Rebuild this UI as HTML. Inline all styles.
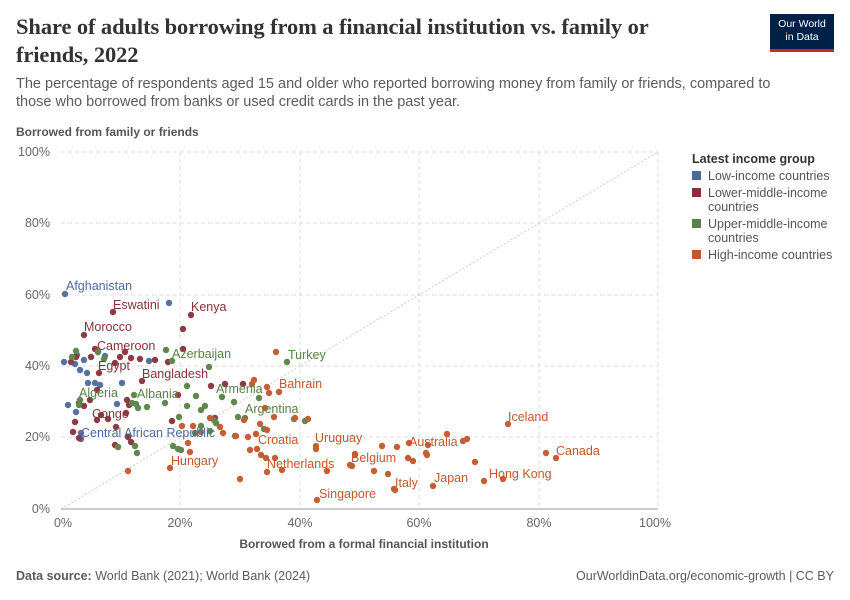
<!DOCTYPE html>
<html><head><meta charset="utf-8"><style>
body{margin:0;background:#fff;font-family:"Liberation Sans",sans-serif;}
.t{position:absolute;left:16px;top:13px;font-family:"Liberation Serif",serif;font-size:22.5px;font-weight:bold;color:#333;line-height:28px;width:660px;letter-spacing:-0.1px}
.s{position:absolute;left:16px;top:75px;font-size:14.5px;color:#5b5b5b;line-height:18px;width:790px}
.logo{position:absolute;left:770px;top:14px;width:64px;height:38px;background:#002147;color:#fff;font-size:10.5px;text-align:center;line-height:13px;padding-top:4px;box-sizing:border-box;border-bottom:3px solid #ce261e}
.f{position:absolute;top:569px;font-size:12.5px;color:#5b5b5b}
</style></head><body>
<div class="t">Share of adults borrowing from a financial institution vs. family or friends, 2022</div>
<div class="s">The percentage of respondents aged 15 and older who reported borrowing money from family or friends, compared to those who borrowed from banks or used credit cards in the past year.</div>
<div class="logo">Our World<br>in Data</div>
<div class="f" style="left:16px"><b>Data source:</b> World Bank (2021); World Bank (2024)</div>
<div class="f" style="right:16px">OurWorldinData.org/economic-growth | CC BY</div>
<svg width="850" height="600" style="position:absolute;left:0;top:0" font-family="Liberation Sans,sans-serif">
<text x="16" y="136" font-size="12" font-weight="bold" fill="#555">Borrowed from family or friends</text>
<g stroke="#ddd" stroke-dasharray="4,3">
<line x1="61" y1="152" x2="658" y2="152"/><line x1="61" y1="223" x2="658" y2="223"/><line x1="61" y1="295" x2="658" y2="295"/><line x1="61" y1="366" x2="658" y2="366"/><line x1="61" y1="437" x2="658" y2="437"/>
<line x1="180" y1="152" x2="180" y2="509"/><line x1="300" y1="152" x2="300" y2="509"/><line x1="419" y1="152" x2="419" y2="509"/><line x1="539" y1="152" x2="539" y2="509"/><line x1="658" y1="152" x2="658" y2="509"/>
</g>
<line x1="61" y1="509" x2="658" y2="152" stroke="#ccc" stroke-dasharray="2,2"/>
<line x1="61" y1="509" x2="658" y2="509" stroke="#999"/>
<g font-size="12.5" fill="#666" text-anchor="end">
<text x="50" y="156">100%</text><text x="50" y="227">80%</text><text x="50" y="299">60%</text><text x="50" y="370">40%</text><text x="50" y="441">20%</text><text x="50" y="513">0%</text></g>
<g font-size="12.5" fill="#666" text-anchor="middle">
<text x="63" y="527">0%</text><text x="180" y="527">20%</text><text x="300" y="527">40%</text><text x="419" y="527">60%</text><text x="539" y="527">80%</text><text x="655" y="527">100%</text></g>
<text x="364" y="548" font-size="12" font-weight="bold" fill="#555" text-anchor="middle">Borrowed from a formal financial institution</text>
<g id="pts" opacity="0.95"></g>
<g font-size="12.5">
<text x="66" y="290" fill="#4c6a9c">Afghanistan</text>
<text x="113" y="309" fill="#883039">Eswatini</text>
<text x="191" y="311" fill="#883039">Kenya</text>
<text x="84" y="331" fill="#883039">Morocco</text>
<text x="97" y="350" fill="#883039">Cameroon</text>
<text x="98" y="370" fill="#883039">Egypt</text>
<text x="172" y="358" fill="#578145">Azerbaijan</text>
<text x="142" y="378" fill="#883039">Bangladesh</text>
<text x="288" y="359" fill="#578145">Turkey</text>
<text x="79" y="397" fill="#578145">Algeria</text>
<text x="137" y="398" fill="#578145">Albania</text>
<text x="216" y="393" fill="#578145">Armenia</text>
<text x="279" y="388" fill="#c4562b">Bahrain</text>
<text x="245" y="413" fill="#578145">Argentina</text>
<text x="92" y="418" fill="#883039">Congo</text>
<text x="81" y="437" fill="#4c6a9c">Central African Republic</text>
<text x="258" y="444" fill="#c4562b">Croatia</text>
<text x="315" y="442" fill="#c4562b">Uruguay</text>
<text x="508" y="421" fill="#c4562b">Iceland</text>
<text x="409" y="446" fill="#c4562b">Australia</text>
<text x="556" y="455" fill="#c4562b">Canada</text>
<text x="171" y="465" fill="#c4562b">Hungary</text>
<text x="267" y="468" fill="#c4562b">Netherlands</text>
<text x="351" y="462" fill="#c4562b">Belgium</text>
<text x="489" y="478" fill="#c4562b">Hong Kong</text>
<text x="434" y="482" fill="#c4562b">Japan</text>
<text x="395" y="487" fill="#c4562b">Italy</text>
<text x="319" y="498" fill="#c4562b">Singapore</text>
</g>
<g font-size="12.5" fill="#555">
<text x="692" y="163" font-weight="bold" fill="#333">Latest income group</text>
<rect x="692" y="171" width="9" height="9" fill="#4c6a9c"/><text x="708" y="180">Low-income countries</text>
<rect x="692" y="188" width="9" height="9" fill="#883039"/><text x="708" y="197">Lower-middle-income</text><text x="708" y="211">countries</text>
<rect x="692" y="219" width="9" height="9" fill="#578145"/><text x="708" y="228">Upper-middle-income</text><text x="708" y="242">countries</text>
<rect x="692" y="250" width="9" height="9" fill="#c4562b"/><text x="708" y="259">High-income countries</text>
</g>
</svg>
<script>
var d={"#4c6a9c":[[65,294],[169,303],[64,362],[75,364],[80,370],[77,355],[84,360],[105,356],[88,383],[95,383],[100,385],[122,383],[68,405],[117,404],[76,412],[81,439],[87,373],[149,361],[81,433]],
"#883039":[[113,312],[191,315],[183,329],[84,335],[183,349],[95,349],[76,357],[71,362],[91,357],[98,352],[120,357],[125,352],[115,363],[131,358],[140,359],[155,360],[168,362],[99,373],[142,381],[97,390],[90,400],[79,403],[84,406],[127,400],[129,405],[126,413],[101,415],[108,419],[75,422],[73,432],[97,420],[116,427],[79,438],[115,445],[118,447],[131,442],[225,384],[243,384],[211,386],[178,395],[215,418],[172,421],[128,437]],
"#578145":[[76,351],[72,357],[98,352],[104,359],[166,350],[172,361],[209,367],[187,386],[287,362],[134,395],[80,400],[79,405],[136,404],[132,403],[138,408],[165,403],[147,407],[187,406],[205,406],[196,396],[222,397],[179,417],[216,423],[201,426],[214,420],[234,402],[259,398],[238,417],[245,418],[294,419],[305,421],[195,433],[235,436],[210,431],[264,429],[173,446],[181,450],[137,453],[118,447],[178,449],[135,446],[201,410]],
"#c4562b":[[276,352],[252,384],[267,387],[254,380],[269,393],[279,392],[265,408],[244,420],[274,417],[295,418],[308,419],[260,424],[256,434],[248,437],[236,436],[210,418],[182,426],[220,427],[267,430],[223,433],[193,426],[201,432],[188,443],[190,452],[250,450],[257,449],[261,455],[266,458],[267,472],[275,458],[282,470],[316,446],[316,449],[327,471],[170,468],[128,471],[240,479],[317,500],[350,465],[352,466],[355,454],[374,471],[382,446],[388,474],[397,447],[408,458],[409,443],[427,455],[428,445],[426,453],[413,461],[394,489],[395,490],[433,486],[447,434],[463,441],[467,439],[475,462],[484,481],[508,424],[503,479],[546,453],[556,458]]};
var g=document.getElementById("pts"),h="";
for(var c in d)d[c].forEach(function(p){h+='<circle cx="'+p[0]+'" cy="'+p[1]+'" r="3.2" fill="'+c+'"/>';});
g.innerHTML=h;
</script>
</body></html>
